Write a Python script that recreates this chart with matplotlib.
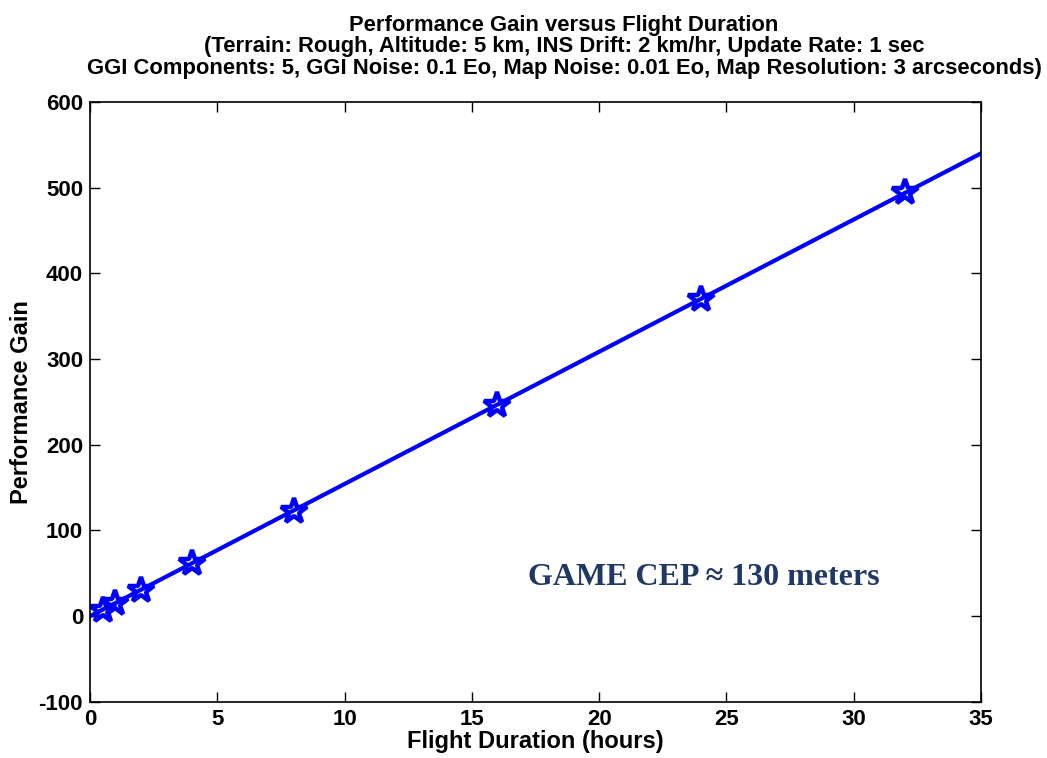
import numpy as np
import matplotlib.pyplot as plt

# flight duration (hours) and performance gain
hours = [0.5, 1, 2, 4, 8, 16, 24, 32]
gain = [7, 15, 31, 62, 123, 246, 370, 495]
# straight-line fit through the points
fit_x = [0, 35]
fit_y = [0, 540]

xticks = [0, 5, 10, 15, 20, 25, 30, 35]
yticks = [-100, 0, 100, 200, 300, 400, 500, 600]

plt.rcParams['font.family'] = ['Liberation Sans', 'DejaVu Sans']
plt.rcParams['font.weight'] = 'bold'
plt.rcParams['axes.unicode_minus'] = False

fig = plt.figure(figsize=(10.47, 7.58), dpi=100)
ax = fig.add_axes([0.086, 0.074, 0.851, 0.7915])

ax.plot(fit_x, fit_y, color='#0000ff', lw=3)
ax.plot(hours, gain, ls='none', marker='*', ms=19, mfc='none',
        mec='#0000ff', mew=3.2)

ax.set_xlim(0, 35)
ax.set_ylim(-100, 600)
ax.set_xticks(xticks)
ax.set_yticks(yticks)
ax.tick_params(direction='in', top=True, right=True, labelsize=16,
               length=7, width=1, pad=5)
for lbl in ax.get_xticklabels() + ax.get_yticklabels():
    lbl.set_fontweight('bold')
for s in ax.spines.values():
    s.set_linewidth(1.2)

ax.set_xlabel('Flight Duration (hours)', fontsize=17, fontweight='bold', labelpad=0)
ax.set_ylabel('Performance Gain', fontsize=17, fontweight='bold', labelpad=4)
ax.set_title('Performance Gain versus Flight Duration\n'
             '(Terrain: Rough, Altitude: 5 km, INS Drift: 2 km/hr, Update Rate: 1 sec\n'
             'GGI Components: 5, GGI Noise: 0.1 Eo, Map Noise: 0.01 Eo, Map Resolution: 3 arcseconds)',
             fontsize=15.8, fontweight='bold', linespacing=1.05, pad=20, x=0.532)

ax.text(17.2, 45, 'GAME CEP \u2248 130 meters', fontsize=23, fontweight='bold',
        family=['Liberation Serif', 'DejaVu Serif'], color='#1f3864', va='center')

fig.savefig('out.png', dpi=100)
